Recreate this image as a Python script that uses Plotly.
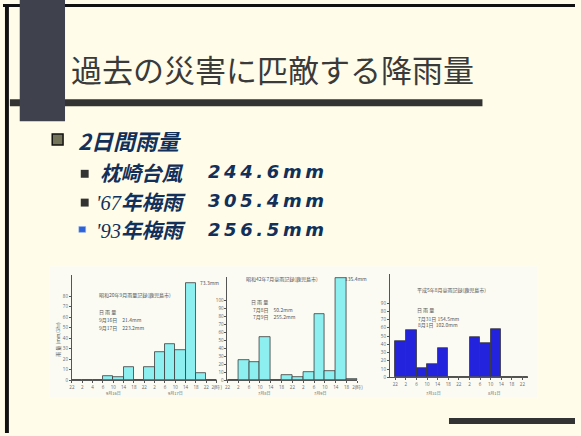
import plotly.graph_objects as go

W, H = 581, 436

# ---------------- data ----------------
title_text = "過去の災害に匹敵する降雨量"
heading = "2日間雨量"
item_names = ["枕崎台風", "'67年梅雨", "'93年梅雨"]
item_values = ["244.6mm", "305.4mm", "256.5mm"]

c1_title = "昭和20年9月雨量記録(鹿児島市)"
c1_daily = ["9月16日　21.4mm", "9月17日　223.2mm"]
c1_days = ["9月16日", "9月17日"]
c1_hours = ["22", "2", "4", "6", "10", "14", "18", "22", "2", "6", "10", "14", "18", "22", "2(時)"]
c1_rain = [0, 0, 0, 4, 3, 13, 0, 13, 27, 34, 29, 92, 7, 0]
c1_peak = "73.3mm"
c1_yticks = [0, 10, 20, 30, 40, 50, 60, 70, 80]

c2_title = "昭和42年7月豪雨記録(鹿児島市)"
c2_daily = ["7月8日　50.2mm", "7月9日　255.2mm"]
c2_days = ["7月8日", "7月9日"]
c2_hours = ["22", "2", "6", "10", "14", "18", "22", "2", "6", "10", "14", "18", "2(時)"]
c2_rain = [0, 25, 23, 55, 0, 7, 4, 11, 83, 12, 129, 1]
c2_peak = "135.4mm"
c2_yticks = [0, 10, 20, 30, 40, 50, 60, 70, 80, 90, 100]

c3_title = "平成5年8月豪雨記録(鹿児島市)"
c3_daily = ["7月31日 154.5mm", "8月1日  102.0mm"]
c3_days = ["7月31日", "8月1日"]
c3_hours = ["22", "2", "6", "10", "14", "18", "22", "2", "6", "10", "14", "18", "22", "3(時)"]
c3_rain = [44, 57, 11, 16, 35, 0, 0, 49, 41, 59, 0, 0, 0]
c3_yticks = [0, 10, 20, 30, 40, 50, 60, 70, 80, 90]


# ---------------- helpers ----------------
def px(x):
    return x / W


def py(y):
    return 1 - y / H


BG = "#FFFDE9"
INK = "#12305a"
AX = "#555555"

fig = go.Figure()

charts = [
    dict(rain=c1_rain, hours=c1_hours, color="#8EEFF0", xr=[-0.5, len(c1_rain) - 0.5], xd=(70, 217),
         yr=[0, 100], yd=(277, 383), yt=c1_yticks),
    dict(rain=c2_rain, hours=c2_hours, color="#8EEFF0", xr=[-0.5, len(c2_rain) - 0.5], xd=(228, 360),
         yr=[0, 130], yd=(279, 383), yt=c2_yticks),
    dict(rain=c3_rain, hours=c3_hours, color="#2323DD", xr=[-1, len(c3_rain) - 1], xd=(393, 533),
         yr=[0, 125], yd=(276, 380), yt=c3_yticks),
]

for i, c in enumerate(charts, start=1):
    sx = "" if i == 1 else str(i)
    fig.add_trace(go.Bar(
        x=list(range(len(c["rain"]))), y=c["rain"], width=1,
        marker=dict(color=c["color"], line=dict(color="#3a3a3a", width=0.8)),
        xaxis="x" + sx, yaxis="y" + sx, showlegend=False, hoverinfo="skip"))
    fig.layout["xaxis" + sx] = dict(
        domain=[px(c["xd"][0]), px(c["xd"][1])], range=c["xr"], anchor="y" + sx,
        tickvals=[k - 0.5 for k in range(len(c["hours"]))], ticktext=c["hours"],
        tickfont=dict(size=4.5, color="#666"), ticks="outside", ticklen=2, tickcolor=AX,
        showline=True, linecolor=AX, linewidth=1, showgrid=False, zeroline=False, fixedrange=True)
    fig.layout["yaxis" + sx] = dict(
        domain=[py(c["yd"][1]), py(c["yd"][0])], range=c["yr"], anchor="x" + sx,
        tickvals=c["yt"], tickfont=dict(size=4.5, color="#666"), ticks="outside", ticklen=2,
        tickcolor=AX, showline=True, linecolor=AX, linewidth=1, showgrid=False, zeroline=False,
        fixedrange=True)

shapes = []
# chart strip background
shapes.append(dict(type="rect", xref="paper", yref="paper", x0=px(47), x1=px(543), y0=py(400), y1=py(268),
                   fillcolor="#FBFBF4", line=dict(width=0), layer="below"))
# frame lines
shapes.append(dict(type="rect", xref="paper", yref="paper", x0=0, x1=1, y0=py(7), y1=py(4),
                   fillcolor="#111", line=dict(width=0)))
shapes.append(dict(type="rect", xref="paper", yref="paper", x0=px(2), x1=px(6), y0=0, y1=py(4),
                   fillcolor="#111", line=dict(width=0)))
# title rule and dark patterned block
shapes.append(dict(type="rect", xref="paper", yref="paper", x0=px(7), x1=px(487), y0=py(107), y1=py(100),
                   fillcolor="#333333", line=dict(width=0)))
shapes.append(dict(type="rect", xref="paper", yref="paper", x0=px(17), x1=px(63), y0=py(122), y1=1,
                   fillcolor="#3F414D", line=dict(width=0)))
# bottom-right bar
shapes.append(dict(type="rect", xref="paper", yref="paper", x0=px(453), x1=1, y0=py(427), y1=py(421),
                   fillcolor="#333333", line=dict(width=0)))
# bullets
shapes.append(dict(type="rect", xref="paper", yref="paper", x0=px(50), x1=px(61), y0=py(146), y1=py(135),
                   fillcolor="#74745A", line=dict(color="#111", width=1.5)))
for yc in (175, 204):
    shapes.append(dict(type="rect", xref="paper", yref="paper", x0=px(79), x1=px(87), y0=py(yc + 4),
                       y1=py(yc - 4), fillcolor="#333", line=dict(width=0)))
shapes.append(dict(type="rect", xref="paper", yref="paper", x0=px(77), x1=px(84), y0=py(234), y1=py(228),
                   fillcolor="#2E62D6", line=dict(color="#9DB8F0", width=0.5)))

ann = []
CJK = "Noto Sans CJK JP"


def A(text, x, y, size, color="#555", xanchor="left", yanchor="middle", angle=0, family=CJK, xref="paper",
      yref="paper"):
    ann.append(dict(text=text, x=x, y=y, xref=xref, yref=yref, showarrow=False, xanchor=xanchor,
                    yanchor=yanchor, textangle=angle, font=dict(family=family, size=size, color=color)))


A(title_text, px(67), py(69), 31, color="#3A3A3A")
A("<b><i>" + heading + "</i></b>", px(74), py(141), 22, color=INK)
rows = [173, 202, 231]
for name, val, yy in zip(item_names, item_values, rows):
    if name.startswith("'"):
        head, rest = name[:3], name[3:]
        txt = ("<i><span style='font-family:Liberation Serif'>" + head + "</span></i>"
               + "<b><i>" + rest + "</i></b>")
        A(txt, px(92), py(yy), 20.5, color=INK)
    else:
        A("<b><i>" + name + "</i></b>", px(96), py(yy), 20.5, color=INK)
    A("<b><i>" + "\u2009".join(val) + "</i></b>", px(206), py(yy), 18, color=INK, family="DejaVu Sans")

# chart texts
SMALL = 5
A(c1_title, px(95), py(297), SMALL)
A("日 雨 量", px(95), py(314), SMALL)
A(c1_daily[0], px(95), py(322), SMALL)
A(c1_daily[1], px(95), py(330), SMALL)
A("雨 量 (mm/3hr)", px(56), py(342), SMALL, angle=-90, xanchor="center")
A(c1_peak, px(198), py(284), SMALL)

A(c2_title, px(245), py(281), SMALL)
A("日 雨 量", px(250), py(304), SMALL)
A(c2_daily[0], px(252), py(312), SMALL)
A(c2_daily[1], px(252), py(319), SMALL)
A(c2_peak, px(345), py(280), SMALL)

A(c3_title, px(418), py(292), SMALL)
A("日 雨 量", px(418), py(312), SMALL)
A(c3_daily[0], px(420), py(321), SMALL)
A(c3_daily[1], px(420), py(327), SMALL)

# day labels under axes (in data x coordinates)
for sx, days, pos in (("", c1_days, (3.5, 9.5)), ("2", c2_days, (2.9, 8.0)), ("3", c3_days, (3.1, 8.8))):
    for d, p in zip(days, pos):
        ann.append(dict(text=d, x=p, y=py(395.5), xref="x" + sx, yref="paper", showarrow=False,
                        xanchor="center", yanchor="middle", font=dict(family=CJK, size=4, color="#666")))

fig.update_layout(
    width=W, height=H, margin=dict(l=0, r=0, t=0, b=0),
    paper_bgcolor=BG, plot_bgcolor="rgba(0,0,0,0)",
    shapes=shapes, annotations=ann, showlegend=False, bargap=0,
)

fig.write_html("out.html")
